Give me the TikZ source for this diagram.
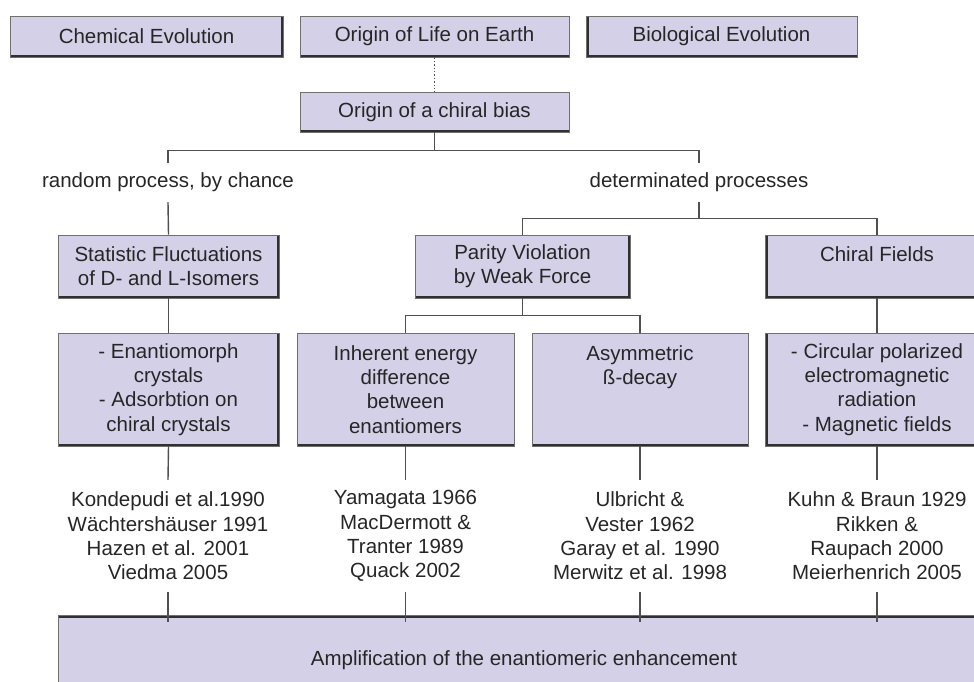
\documentclass[tikz,border=0pt]{standalone}
\usepackage{fontspec}
\setmainfont{Liberation Sans}
\definecolor{boxfill}{HTML}{D3D0E8}
\definecolor{bord}{HTML}{707070}
\definecolor{shad}{HTML}{303030}
\definecolor{lin}{HTML}{505050}
\definecolor{txt}{HTML}{262626}
\begin{document}
\begin{tikzpicture}[x=1pt,y=-1pt,
  every node/.style={font=\fontsize{20.5}{24.3}\selectfont, text=txt, align=center, inner sep=0pt},
  box/.style={draw=bord, fill=boxfill, line width=0.8pt},
  shb/.style={path picture={\draw[shad,line width=5pt] (path picture bounding box.south west) -- (path picture bounding box.south east);}},
  shr/.style={path picture={\draw[shad,line width=5pt] (path picture bounding box.south west) -- (path picture bounding box.south east) -- (path picture bounding box.north east);}},
  shl/.style={path picture={\draw[shad,line width=5pt] (path picture bounding box.south east) -- (path picture bounding box.south west) -- (path picture bounding box.north west);}},
  sht/.style={path picture={\draw[shad,line width=5pt] (path picture bounding box.north west) -- (path picture bounding box.north east);}},
  conn/.style={draw=lin, line width=1.4pt},
  lbl/.style={minimum height=39pt},
  refs/.style={minimum height=112pt}
]
\useasboundingbox (0,0) rectangle (974,681);

% top row
\node[box,shr,minimum width=273pt,minimum height=41pt] (chem) at (146.5,36.5) {Chemical Evolution};
\node[box,shb,minimum width=269pt,minimum height=41pt] (life) at (434.5,36.5) {Origin of Life on Earth};
\node[box,shl,minimum width=271pt,minimum height=41pt] (bio) at (721.5,36.5) {Biological Evolution};
\node[box,shb,minimum width=269pt,minimum height=40pt] (bias) at (434.5,112) {Origin of a chiral bias};

% branch labels
\node[lbl] (random) at (168,182.5) {random process, by chance};
\node[lbl] (determ) at (699,182.5) {determinated processes};

% second row
\node[box,shr,minimum width=221pt,minimum height=63pt] (stat) at (168.5,266.5) {Statistic Fluctuations\\of D- and L-Isomers};
\node[box,shr,minimum width=215pt,minimum height=63pt] (parity) at (522.5,266.5) {Parity Violation\\by Weak Force};
\node[box,shl,minimum width=224pt,minimum height=63pt] (chiral) at (877,266.5) {Chiral Fields\\\mbox{}};

% third row
\node[box,shr,minimum width=221pt,minimum height=113pt] (enant) at (168.5,389.5) {- Enantiomorph\\crystals\\- Adsorbtion on\\chiral crystals};
\node[box,shb,minimum width=217pt,minimum height=113pt] (inher) at (405.5,389.5) {Inherent energy\\difference\\between\\enantiomers};
\node[box,shb,minimum width=216pt,minimum height=113pt] (asym) at (640,389.5) {Asymmetric\\ß-decay\\\mbox{}\\\mbox{}};
\node[box,shl,minimum width=224pt,minimum height=113pt] (circ) at (877,389.5) {- Circular polarized\\electromagnetic\\radiation\\- Magnetic fields};

% references
\node[refs] (r1) at (168,536) {Kondepudi et al.1990\\Wächtershäuser 1991\\Hazen et al. 2001\\Viedma 2005};
\node[refs] (r2) at (405.5,536) {Yamagata 1966\\MacDermott \&\\Tranter 1989\\Quack 2002};
\node[refs] (r3) at (640,536) {Ulbricht \&\\Vester 1962\\Garay et al. 1990\\Merwitz et al. 1998};
\node[refs] (r4) at (877,536) {Kuhn \& Braun 1929\\Rikken \&\\Raupach 2000\\Meierhenrich 2005};

% bottom box
\node[box,sht,minimum width=932pt,minimum height=90pt] (amp) at (524,660) {Amplification of the enantiomeric enhancement};

% connectors
\draw[conn,dotted,line width=1pt] (life.south) -- (bias.north);
\draw[conn] (bias.south) -- ++(0,18) -| (random.north);
\draw[conn] (bias.south) -- ++(0,18) -| (determ.north);
\draw[conn] (random.south) -- (stat.north);
\draw[conn] (determ.south) -- ++(0,16) -| (parity.north);
\draw[conn] (determ.south) -- ++(0,16) -| (chiral.north);
\draw[conn] (stat.south) -- (enant.north);
\draw[conn] (parity.south) -- ++(0,17) -| (inher.north);
\draw[conn] (parity.south) -- ++(0,17) -| (asym.north);
\draw[conn] (chiral.south) -- (circ.north);
\draw[conn] (enant.south) -- (r1.north);
\draw[conn] (inher.south) -- (r2.north);
\draw[conn] (asym.south) -- (r3.north);
\draw[conn] (circ.south) -- (r4.north);
\draw[conn] (r1.south) -- ++(0,30);
\draw[conn] (r2.south) -- ++(0,30);
\draw[conn] (r3.south) -- ++(0,30);
\draw[conn] (r4.south) -- ++(0,30);
\end{tikzpicture}
\end{document}
